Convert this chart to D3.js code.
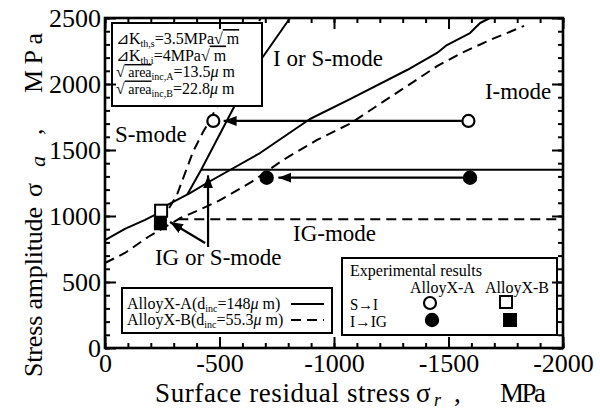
<!DOCTYPE html>
<html><head><meta charset="utf-8">
<script src="https://cdn.jsdelivr.net/npm/d3@7"></script>
<style>
body{margin:0;background:#fff;}
svg{display:block;font-family:"Liberation Serif","Times New Roman",serif;}
</style></head><body>
<svg id="c" width="600" height="409"></svg>
<script>
// ---------- data ----------
const xMajorTicks = [0, -500, -1000, -1500, -2000];
const yMajorTicks = [0, 500, 1000, 1500, 2000, 2500];
const xMinorTicks = d3.range(0, -2001, -100);
const yMinorTicks = d3.range(0, 2501, 100);

// boundary of alloy A (solid), I-mode / IG-mode diagonal
const solidDiagA = [[0,818],[-87,902],[-175,970],[-218,1008],[-271,1083],[-371,1174],[-445,1250],[-677,1477],[-895,1735],[-1070,1886],[-1319,2106],[-1450,2235],[-1493,2295],[-1594,2386],[-1638,2462],[-1681,2500]];
// steep S-mode boundary of alloy A (solid)
const solidSteepA = [[-360,1165],[-420,1350],[-568,1841],[-686,2197],[-808,2500]];
// horizontal IG boundary of alloy A (solid)
const solidHorizA = [[-420,1350],[-2000,1350]];
// boundary of alloy B (dashed), diagonal
const dashDiagB = [[0,644],[-87,720],[-188,841],[-260,915],[-330,985],[-410,1045],[-500,1118],[-640,1258],[-777,1424],[-926,1576],[-1070,1700],[-1245,1900],[-1450,2135],[-1563,2240],[-1681,2333],[-1830,2440]];
// steep S-mode boundary of alloy B (dashed)
const dashSteepB = [[-280,1060],[-314,1159],[-358,1364],[-384,1485],[-428,1636],[-459,1727],[-489,1833],[-560,2100],[-680,2500]];
// horizontal IG boundary of alloy B (dashed)
const dashHorizB = [[-320,975],[-2000,975]];

// experimental results
const openCircles = [[-1587,1720],[-473,1720]];     // Alloy X-A, S->I
const filledCircles = [[-1594,1290],[-706,1290]];   // Alloy X-A, I->IG
const openSquares = [[-245,1040]];                  // Alloy X-B, S->I
const filledSquares = [[-242,945]];                 // Alloy X-B, I->IG

// arrows [from, to] in data units
const arrows = [
  [[-1558,1720],[-518,1720]],
  [[-1563,1290],[-757,1290]],
  [[-450,765],[-450,1308]],
  [[-437,795],[-284,955]]
];

// region labels [text, sigma_r, sigma_a]
const regionLabels = [
  ["I or S-mode", -734, 2136],
  ["I-mode", -1659, 1886],
  ["S-mode", -44, 1561],
  ["IG-mode", -821, 811],
  ["IG or S-mode", -218, 629]
];

// ---------- chart ----------
const svg = d3.select("#c");
const x = d3.scaleLinear().domain([0, -2000]).range([105, 563]);
const y = d3.scaleLinear().domain([0, 2500]).range([348, 18]);

const defs = svg.append("defs");
defs.append("marker").attr("id","ah").attr("markerUnits","userSpaceOnUse")
  .attr("markerWidth",14).attr("markerHeight",12).attr("refX",13).attr("refY",5)
  .attr("orient","auto")
  .append("path").attr("d","M0,0 L13,5 L0,10 Z").attr("fill","#000");

const line = d3.line().x(d => x(d[0])).y(d => y(d[1]));
const plot = svg.append("g");

function drawPath(data, dashed){
  plot.append("path").datum(data).attr("d", line)
    .attr("fill","none").attr("stroke","#000").attr("stroke-width",2)
    .attr("stroke-linejoin","round")
    .attr("stroke-dasharray", dashed ? "10,6" : null);
}
drawPath(solidDiagA,false);
drawPath(solidSteepA,false);
drawPath(solidHorizA,false);
drawPath(dashDiagB,true);
drawPath(dashSteepB,true);
drawPath(dashHorizB,true);

// arrows
plot.selectAll(".arr").data(arrows).enter().append("line")
  .attr("x1",d=>x(d[0][0])).attr("y1",d=>y(d[0][1]))
  .attr("x2",d=>x(d[1][0])).attr("y2",d=>y(d[1][1]))
  .attr("stroke","#000").attr("stroke-width",2.2).attr("marker-end","url(#ah)");

// markers
plot.selectAll(".oc").data(openCircles).enter().append("circle")
  .attr("cx",d=>x(d[0])).attr("cy",d=>y(d[1])).attr("r",6)
  .attr("fill","#fff").attr("stroke","#000").attr("stroke-width",2.2);
plot.selectAll(".fc").data(filledCircles).enter().append("circle")
  .attr("cx",d=>x(d[0])).attr("cy",d=>y(d[1])).attr("r",7.2).attr("fill","#000");
plot.selectAll(".os").data(openSquares).enter().append("rect")
  .attr("x",d=>x(d[0])-6).attr("y",d=>y(d[1])-6).attr("width",12).attr("height",12)
  .attr("fill","#fff").attr("stroke","#000").attr("stroke-width",2);
plot.selectAll(".fs").data(filledSquares).enter().append("rect")
  .attr("x",d=>x(d[0])-6.5).attr("y",d=>y(d[1])-7).attr("width",13).attr("height",14)
  .attr("fill","#000");

// region labels
plot.selectAll(".rl").data(regionLabels).enter().append("text")
  .attr("x",d=>x(d[1])).attr("y",d=>y(d[2]))
  .attr("font-size",23).text(d=>d[0]);

// ---------- legend 1 (parameters) ----------
const L1 = svg.append("g");
L1.append("rect").attr("x",112).attr("y",23).attr("width",150).attr("height",83)
  .attr("fill","#fff").attr("stroke","#000").attr("stroke-width",2);
const l1rows = [
  {pre:"⊿K", sub:"th,s", mid:"=3.5MPa", root:"√", ov:" m"},
  {pre:"⊿K", sub:"th,i", mid:"=4MPa", root:"√", ov:" m"},
  {pre:"", root:"√", ov:" area", sub:"inc,A", mid:"=13.5", mu:true},
  {pre:"", root:"√", ov:" area", sub:"inc,B", mid:"=22.8", mu:true}
];
l1rows.forEach((r,i) => {
  const t = L1.append("text").attr("x",116).attr("y",44 + i*16.5).attr("font-size",16);
  if (i < 2) {
    t.append("tspan").text(r.pre);
    t.append("tspan").attr("font-size",10).attr("dy",3).text(r.sub);
    t.append("tspan").attr("dy",-3).text(r.mid);
    t.append("tspan").text(r.root);
    t.append("tspan").attr("text-decoration","overline").text(r.ov);
  } else {
    t.append("tspan").text(r.root);
    t.append("tspan").attr("font-size",14).attr("text-decoration","overline").text(r.ov);
    t.append("tspan").attr("font-size",10).attr("dy",3).text(r.sub);
    t.append("tspan").attr("dy",-3).text(r.mid);
    t.append("tspan").attr("font-style","italic").text("μ");
    t.append("tspan").text(" m");
  }
});

// ---------- legend 2 (alloys) ----------
const L2 = svg.append("g");
L2.append("rect").attr("x",122).attr("y",288).attr("width",210).attr("height",45)
  .attr("fill","#fff").attr("stroke","#000").attr("stroke-width",2);
const alloys = [["AlloyX-A(d","inc","=148","false"],["AlloyX-B(d","inc","=55.3","true"]];
alloys.forEach((a,i) => {
  const t = L2.append("text").attr("x",127).attr("y",309 + i*16).attr("font-size",16);
  t.append("tspan").text(a[0]);
  t.append("tspan").attr("font-size",10).attr("dy",3).text(a[1]);
  t.append("tspan").attr("dy",-3).text(a[2]);
  t.append("tspan").attr("font-style","italic").text("μ");
  t.append("tspan").text(" m)");
  L2.append("line").attr("x1",291).attr("x2",324).attr("y1",304 + i*16).attr("y2",304 + i*16)
    .attr("stroke","#000").attr("stroke-width",2)
    .attr("stroke-dasharray", a[3]==="true" ? "10,6" : null);
});

// ---------- legend 3 (experimental results) ----------
const L3 = svg.append("g");
L3.append("rect").attr("x",342).attr("y",258).attr("width",215).attr("height",77)
  .attr("fill","#fff").attr("stroke","#000").attr("stroke-width",2);
L3.append("text").attr("x",350).attr("y",276).attr("font-size",16).text("Experimental results");
L3.append("text").attr("x",410).attr("y",293).attr("font-size",16).text("AlloyX-A");
L3.append("text").attr("x",485).attr("y",293).attr("font-size",16).text("AlloyX-B");
L3.append("text").attr("x",350).attr("y",310).attr("font-size",16).attr("textLength",28).attr("lengthAdjust","spacingAndGlyphs").text("S→I");
L3.append("text").attr("x",350).attr("y",327).attr("font-size",16).attr("textLength",37).attr("lengthAdjust","spacingAndGlyphs").text("I→IG");
L3.append("circle").attr("cx",430).attr("cy",303).attr("r",6).attr("fill","#fff")
  .attr("stroke","#000").attr("stroke-width",2.2);
L3.append("circle").attr("cx",432).attr("cy",320).attr("r",7.2).attr("fill","#000");
L3.append("rect").attr("x",500).attr("y",296).attr("width",12).attr("height",12)
  .attr("fill","#fff").attr("stroke","#000").attr("stroke-width",2);
L3.append("rect").attr("x",503).attr("y",313).attr("width",14).attr("height",14).attr("fill","#000");

// ---------- axes ----------
function styleAxis(g){
  g.select(".domain").remove();
  g.selectAll(".tick line").attr("stroke","#000").attr("stroke-width",2);
  g.selectAll(".tick text").attr("font-family","Liberation Serif, serif").attr("font-size",26).attr("fill","#000");
}
const fmt = d => String(d);
svg.append("g").attr("transform","translate(0,348)")
  .call(d3.axisBottom(x).tickValues(xMinorTicks).tickSizeInner(-5).tickSizeOuter(0).tickFormat(""))
  .call(styleAxis);
svg.append("g").attr("transform","translate(0,348)")
  .call(d3.axisBottom(x).tickValues(xMajorTicks).tickSizeInner(-11).tickSizeOuter(0).tickPadding(6).tickFormat(fmt))
  .call(styleAxis);
svg.append("g").attr("transform","translate(0,18)")
  .call(d3.axisTop(x).tickValues(xMinorTicks).tickSizeInner(-5).tickSizeOuter(0).tickFormat(""))
  .call(styleAxis);
svg.append("g").attr("transform","translate(0,18)")
  .call(d3.axisTop(x).tickValues(xMajorTicks).tickSizeInner(-11).tickSizeOuter(0).tickFormat(""))
  .call(styleAxis);
svg.append("g").attr("transform","translate(105,0)")
  .call(d3.axisLeft(y).tickValues(yMinorTicks).tickSizeInner(-5).tickSizeOuter(0).tickFormat(""))
  .call(styleAxis);
svg.append("g").attr("transform","translate(105,0)")
  .call(d3.axisLeft(y).tickValues(yMajorTicks).tickSizeInner(-11).tickSizeOuter(0).tickPadding(4).tickFormat(fmt))
  .call(styleAxis);
svg.append("g").attr("transform","translate(563,0)")
  .call(d3.axisRight(y).tickValues(yMinorTicks).tickSizeInner(-5).tickSizeOuter(0).tickFormat(""))
  .call(styleAxis);
svg.append("g").attr("transform","translate(563,0)")
  .call(d3.axisRight(y).tickValues(yMajorTicks).tickSizeInner(-11).tickSizeOuter(0).tickFormat(""))
  .call(styleAxis);

svg.append("rect").attr("x",105).attr("y",18).attr("width",458).attr("height",330)
  .attr("fill","none").attr("stroke","#000").attr("stroke-width",2.6);

// axis titles (pieces placed with the loose spacing of the original)
const xtg = svg.append("g").attr("font-size",27);
xtg.append("text").attr("x",155).attr("y",402).attr("textLength",255).attr("lengthAdjust","spacing").text("Surface residual stress");
xtg.append("text").attr("x",416).attr("y",402).text("σ");
xtg.append("text").attr("x",434).attr("y",406).attr("font-size",18).attr("font-style","italic").text("r");
xtg.append("text").attr("x",454).attr("y",402).text(",");
xtg.append("text").attr("x",500).attr("y",402).attr("textLength",46).attr("lengthAdjust","spacing").text("MPa");

const ytg = svg.append("g").attr("transform","translate(42,377) rotate(-90)").attr("font-size",26);
ytg.append("text").attr("x",0).attr("y",0).attr("textLength",170).attr("lengthAdjust","spacing").text("Stress amplitude");
ytg.append("text").attr("x",180).attr("y",0).text("σ");
ytg.append("text").attr("x",210).attr("y",3).attr("font-size",22).attr("font-style","italic").text("a");
ytg.append("text").attr("x",242).attr("y",0).text(",");
ytg.append("text").attr("x",284).attr("y",0).attr("textLength",60).attr("lengthAdjust","spacing").text("MPa");
</script>
</body></html>
